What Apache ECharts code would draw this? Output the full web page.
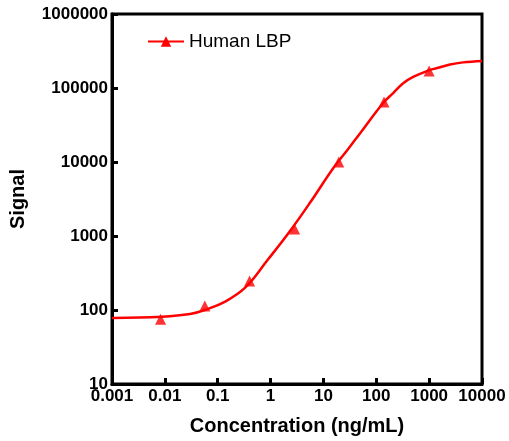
<!DOCTYPE html>
<html>
<head>
<meta charset="utf-8">
<script src="https://cdn.jsdelivr.net/npm/echarts@6/dist/echarts.min.js"></script>
<style>
  html, body {margin: 0; padding: 0; background: #fff;}
  #chart {width: 509px; height: 441px;}
</style>
</head>
<body>
<div id="chart"></div>
<script>
// measured standards (triangles)
const pointConc = [0.0083, 0.057, 0.40, 2.85, 19.5, 140, 1000];
const pointSignal = [75, 113, 247, 1245, 10000, 64700, 170000];

// fitted curve
const curveConc = [0.001, 0.0088, 0.03, 0.057, 0.1355, 0.33, 0.877, 2.19, 5.69, 15.4, 28.4, 49.9, 135, 209, 323, 499, 957, 1416, 2490, 4385, 10000];
const curveSignal = [78, 81, 88, 100, 129, 200, 474, 1097, 2877, 8300, 14500, 24700, 62700, 85500, 116000, 141000, 172000, 186000, 208000, 222000, 232000];

const seriesName = 'Human LBP';
const font = 'Liberation Sans, Arial, sans-serif';

const fmt = v => String(+(+v).toPrecision(1));

let chart = echarts.init(document.getElementById('chart'));
let option = {
  animation: false,
  grid: {
    left: 111, right: 27, top: 14, bottom: 57,
    show: true, borderColor: '#000', borderWidth: 3
  },
  legend: {
    data: [seriesName],
    left: 147, top: 32, padding: 0,
    itemWidth: 36, itemHeight: 13, itemGap: 5,
    textStyle: {fontFamily: font, fontSize: 19, color: '#000'}
  },
  xAxis: {
    type: 'log', logBase: 10, min: 0.001, max: 10000, interval: 1,
    name: 'Concentration (ng/mL)', nameLocation: 'middle', nameGap: 32,
    nameTextStyle: {fontFamily: font, fontSize: 20, fontWeight: 'bold', color: '#000'},
    axisLine: {lineStyle: {color: '#000', width: 3}},
    axisTick: {inside: true, length: 6, lineStyle: {color: '#000', width: 3}},
    axisLabel: {formatter: fmt, margin: 4, fontFamily: font, fontSize: 17, fontWeight: 'bold', color: '#000', showMinLabel: true, showMaxLabel: true, interval: 0},
    splitLine: {show: false}
  },
  yAxis: {
    type: 'log', logBase: 10, min: 10, max: 1000000, interval: 1,
    name: 'Signal', nameLocation: 'middle', nameGap: 84,
    nameTextStyle: {fontFamily: font, fontSize: 20, fontWeight: 'bold', color: '#000'},
    axisLine: {lineStyle: {color: '#000', width: 3}},
    axisTick: {inside: true, length: 6, lineStyle: {color: '#000', width: 3}},
    axisLabel: {formatter: fmt, margin: 4, fontFamily: font, fontSize: 17, fontWeight: 'bold', color: '#000', showMinLabel: true, showMaxLabel: true, interval: 0},
    splitLine: {show: false}
  },
  series: [
    {
      name: seriesName,
      type: 'line',
      data: curveConc.map((c, i) => [c, curveSignal[i]]),
      smooth: 0.4,
      showSymbol: false,
      symbol: 'triangle',
      color: '#ff0000',
      lineStyle: {color: '#ff0000', width: 2.5},
      z: 2
    },
    {
      name: 'points',
      type: 'scatter',
      data: pointConc.map((c, i) => [c, pointSignal[i]]),
      symbol: 'triangle',
      symbolSize: 11,
      itemStyle: {color: '#ff0000'},
      z: 3
    }
  ]
};
chart.setOption(option);
</script>
</body>
</html>
